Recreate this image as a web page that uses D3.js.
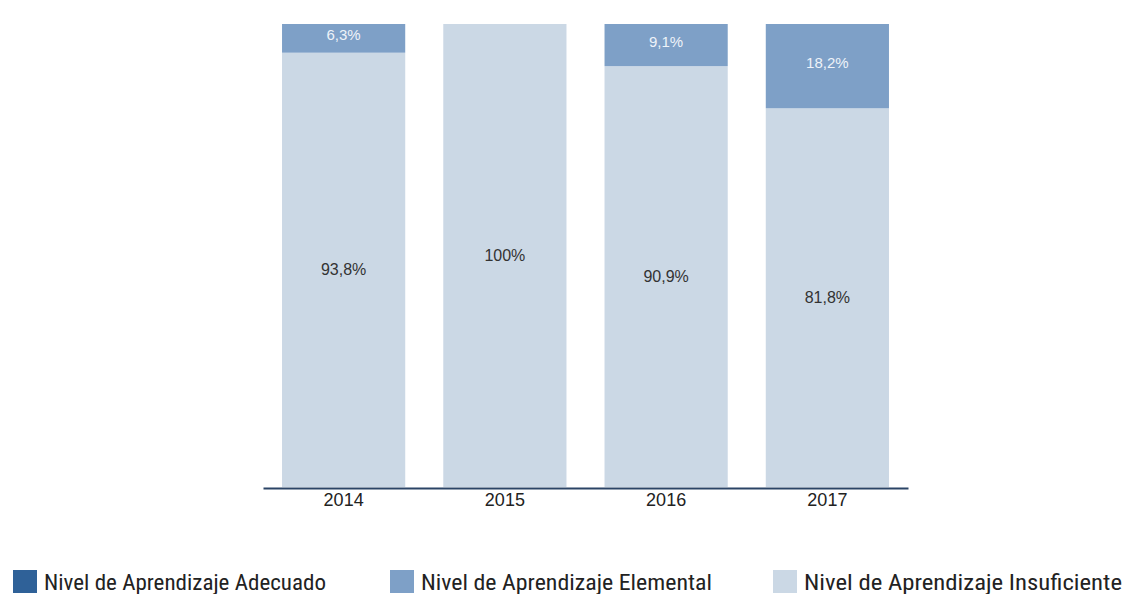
<!DOCTYPE html>
<html>
<head>
<meta charset="utf-8">
<script src="https://cdn.jsdelivr.net/npm/d3@7"></script>
<style>
  html, body { margin: 0; padding: 0; background: #fff; }
  svg { display: block; }
</style>
</head>
<body>
<svg id="chart" width="1128" height="594"></svg>
<script>
// data
const years = ["2014", "2015", "2016", "2017"];
const insuficiente = [93.8, 100, 90.9, 81.8];
const elemental = [6.3, 0, 9.1, 18.2];
const adecuado = [0, 0, 0, 0];
const insuficienteLabels = ["93,8%", "100%", "90,9%", "81,8%"];
const elementalLabels = ["6,3%", "", "9,1%", "18,2%"];
const legendNames = ["Nivel de Aprendizaje Adecuado", "Nivel de Aprendizaje Elemental", "Nivel de Aprendizaje Insuficiente"];

const colors = {
  adecuado: "#2f6198",
  elemental: "#7ea0c7",
  insuficiente: "#cbd8e5"
};

const svg = d3.select("#chart");

const x = d3.scaleBand()
  .domain(years)
  .range([263, 908])
  .paddingInner(0.236)
  .paddingOuter(0.118);

const y = d3.scaleLinear()
  .domain([0, 100])
  .range([487, 24])
  .clamp(true);

// build rows for the stack
const rows = years.map((yr, i) => ({
  year: yr,
  insuficiente: insuficiente[i],
  elemental: elemental[i],
  adecuado: adecuado[i]
}));

const stack = d3.stack().keys(["insuficiente", "elemental", "adecuado"]);
const series = stack(rows);

const g = svg.append("g");

g.selectAll("g.layer")
  .data(series)
  .join("g")
  .attr("class", "layer")
  .attr("fill", d => colors[d.key])
  .selectAll("rect")
  .data(d => d)
  .join("rect")
  .attr("x", d => x(d.data.year))
  .attr("width", x.bandwidth())
  .attr("y", d => y(d[1]))
  .attr("height", d => Math.max(0, y(d[0]) - y(d[1])));

// labels inside insuficiente segments
g.selectAll("text.lbl-ins")
  .data(series[0])
  .join("text")
  .attr("class", "lbl-ins")
  .attr("x", d => x(d.data.year) + x.bandwidth() / 2)
  .attr("y", d => (y(d[0]) + y(d[1])) / 2)
  .attr("dy", "0.35em")
  .attr("text-anchor", "middle")
  .attr("font-family", "'Liberation Sans', Arial, sans-serif")
  .attr("font-size", "16px")
  .attr("fill", "#333")
  .text((d, i) => insuficienteLabels[i]);

// labels inside elemental segments
g.selectAll("text.lbl-elem")
  .data(series[1].filter((d, i) => elementalLabels[i] !== ""))
  .join("text")
  .attr("class", "lbl-elem")
  .attr("x", d => x(d.data.year) + x.bandwidth() / 2)
  .attr("y", d => (y(d[0]) + y(d[1])) / 2)
  .attr("dy", "0.1em")
  .attr("text-anchor", "middle")
  .attr("font-family", "'Liberation Sans', Arial, sans-serif")
  .attr("font-size", "15px")
  .attr("fill", "#eef3f9")
  .text(d => elementalLabels[years.indexOf(d.data.year)]);

// x axis
const xAxis = svg.append("g")
  .attr("transform", "translate(0,488)")
  .call(d3.axisBottom(x).tickSize(0).tickPadding(5));

xAxis.select(".domain")
  .attr("stroke", "#2b4466")
  .attr("stroke-width", 2);

xAxis.selectAll("text")
  .attr("font-family", "'Liberation Sans', Arial, sans-serif")
  .attr("font-size", "18px")
  .attr("fill", "#222");

// legend
const legendX = [13, 390, 773];
const legendWidths = [282, 291, 318];
const legendColors = [colors.adecuado, colors.elemental, colors.insuficiente];

const legend = svg.append("g");
const item = legend.selectAll("g")
  .data(legendNames)
  .join("g")
  .attr("transform", (d, i) => "translate(" + legendX[i] + ",570)");

item.append("rect")
  .attr("width", 24)
  .attr("height", 23)
  .attr("fill", (d, i) => legendColors[i]);

item.append("text")
  .attr("x", 31)
  .attr("y", 20)
  .attr("font-family", "'Liberation Sans Narrow', 'Roboto Condensed', 'Liberation Sans', sans-serif")
  .attr("font-size", "22px")
  .attr("fill", "#222")
  .attr("textLength", (d, i) => legendWidths[i])
  .attr("lengthAdjust", "spacingAndGlyphs")
  .text(d => d);
</script>
</body>
</html>
